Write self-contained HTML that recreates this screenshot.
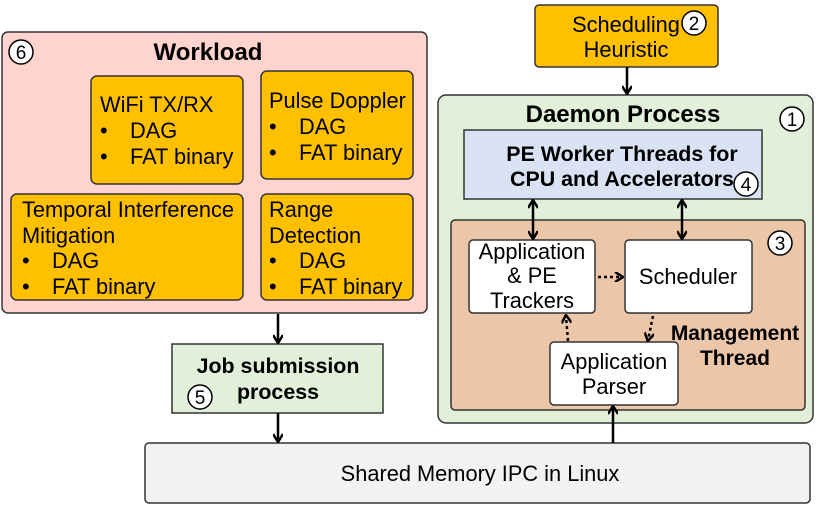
<!DOCTYPE html>
<html><head><meta charset="utf-8"><style>
html,body{margin:0;padding:0;background:#fff}
svg{display:block}
text{font-family:"Liberation Sans",Arial,sans-serif;fill:#000}
.n{font-size:21.8px}
.b{font-size:24px;font-weight:bold}
.c{font-size:19px}
</style></head><body>
<svg width="821" height="506" viewBox="0 0 821 506" xmlns="http://www.w3.org/2000/svg">
<defs>
<marker id="ah" markerWidth="10" markerHeight="10" refX="8" refY="5" orient="auto" markerUnits="userSpaceOnUse">
<path d="M1,0 L9,5 L1,10" fill="none" stroke="#000" stroke-width="2.5"/>
</marker>
</defs>
<g stroke="#333" stroke-width="1.5">
<rect x="2" y="32" width="425" height="281" rx="6" fill="#ffd4ce"/>
<rect x="91" y="76" width="152" height="108" rx="6" fill="#ffc000"/>
<rect x="261" y="71" width="152" height="108" rx="6" fill="#ffc000"/>
<rect x="11" y="194" width="232" height="106" rx="6" fill="#ffc000"/>
<rect x="261" y="194" width="152" height="106" rx="6" fill="#ffc000"/>
<rect x="535" y="5" width="183" height="62" rx="4" fill="#ffc000"/>
<rect x="438" y="95" width="375" height="328" rx="8" fill="#e2efd9"/>
<rect x="464" y="130" width="298" height="69" fill="#dae3f3"/>
<rect x="451" y="220" width="354" height="190" rx="4" fill="#ecc6a8"/>
<rect x="469" y="240" width="126" height="73" rx="4" fill="#fff"/>
<rect x="625" y="240" width="127" height="73" rx="4" fill="#fff"/>
<rect x="550" y="342" width="128" height="63" rx="4" fill="#fff"/>
<rect x="172" y="344" width="211" height="69" fill="#e2efd9"/>
<rect x="145" y="443" width="665" height="60" rx="4" fill="#f2f2f2"/>
</g>
<g fill="#fff" stroke="#000" stroke-width="1.5">
<circle cx="21" cy="52" r="12"/><circle cx="694" cy="23" r="12"/><circle cx="792" cy="119" r="12"/>
<circle cx="746" cy="184" r="12"/><circle cx="780" cy="243" r="12"/><circle cx="200" cy="397" r="12"/>
</g>
<g class="c" text-anchor="middle">
<text x="21" y="59">6</text><text x="694" y="30">2</text><text x="792" y="126">1</text>
<text x="746" y="191">4</text><text x="780" y="250">3</text><text x="200" y="404">5</text>
</g>
<g stroke="#000" stroke-width="2.5" fill="none">
<line x1="627" y1="67" x2="627" y2="93" marker-end="url(#ah)"/>
<line x1="278" y1="314" x2="278" y2="342" marker-end="url(#ah)"/>
<line x1="278" y1="413" x2="278" y2="441" marker-end="url(#ah)"/>
<line x1="613" y1="443" x2="613" y2="407" marker-end="url(#ah)"/>
<line x1="533" y1="219" x2="533" y2="201" marker-end="url(#ah)"/>
<line x1="533" y1="219" x2="533" y2="238" marker-end="url(#ah)"/>
<line x1="682" y1="219" x2="682" y2="201" marker-end="url(#ah)"/>
<line x1="682" y1="219" x2="682" y2="238" marker-end="url(#ah)"/>
<g stroke-dasharray="3,3">
<line x1="598" y1="277" x2="622" y2="277" marker-end="url(#ah)"/>
<line x1="653" y1="316" x2="648" y2="340" marker-end="url(#ah)"/>
<line x1="568" y1="341" x2="566" y2="316" marker-end="url(#ah)"/>
</g>
</g>
<text class="b" x="208" y="60" text-anchor="middle">Workload</text>
<g class="n">
<text x="100" y="112">WiFi TX/RX</text>
<text x="100" y="138">•</text><text x="130" y="138">DAG</text>
<text x="100" y="164">•</text><text x="130" y="164">FAT binary</text>
<text x="269" y="108">Pulse Doppler</text>
<text x="269" y="134">•</text><text x="299" y="134">DAG</text>
<text x="269" y="160">•</text><text x="299" y="160">FAT binary</text>
<text x="22" y="217">Temporal Interference</text>
<text x="22" y="243">Mitigation</text>
<text x="22" y="268">•</text><text x="52" y="268">DAG</text>
<text x="22" y="294">•</text><text x="52" y="294">FAT binary</text>
<text x="269" y="217">Range</text>
<text x="269" y="243">Detection</text>
<text x="269" y="268">•</text><text x="299" y="268">DAG</text>
<text x="269" y="294">•</text><text x="299" y="294">FAT binary</text>
</g>
<g class="n" text-anchor="middle">
<text x="626" y="32">Scheduling</text>
<text x="626" y="57">Heuristic</text>
<text x="532" y="259">Application</text>
<text x="532" y="283">&amp; PE</text>
<text x="532" y="308">Trackers</text>
<text x="688" y="284">Scheduler</text>
<text x="614" y="369">Application</text>
<text x="614" y="394">Parser</text>
<text x="480" y="481">Shared Memory IPC in Linux</text>
</g>
<g class="b" text-anchor="middle">
<text x="623" y="122">Daemon Process</text>
<text x="622" y="161" style="font-size:21.4px">PE Worker Threads for</text>
<text x="622" y="186" style="font-size:21.4px">CPU and Accelerators</text>
<text x="735" y="340" style="font-size:21px">Management</text>
<text x="735" y="365" style="font-size:21px">Thread</text>
<text x="278" y="373" style="font-size:21.4px">Job submission</text>
<text x="278" y="399" style="font-size:21.4px">process</text>
</g>
</svg>
</body></html>
